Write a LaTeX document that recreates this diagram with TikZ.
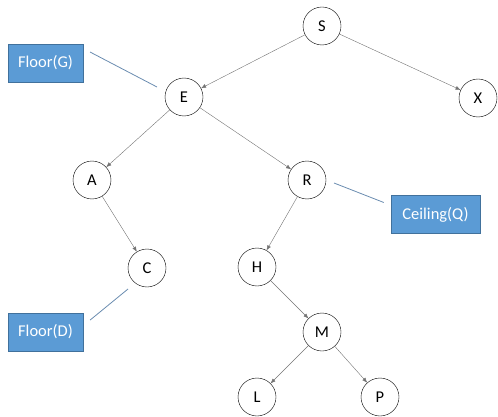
\documentclass[tikz,border=0pt]{standalone}
\usepackage{fontspec}
\setmainfont{Carlito}
\usetikzlibrary{arrows.meta}

\definecolor{boxblue}{HTML}{5B9BD5}
\definecolor{boxedge}{HTML}{41719C}
\definecolor{calloutline}{HTML}{6A8CB0}

\tikzset{
  treenode/.style={draw=black,circle,minimum size=38pt,inner sep=0pt,font=\fontsize{16.5}{16.5}\selectfont},
  tag/.style={draw=boxedge,fill=boxblue,text=white,minimum height=38pt,inner sep=0pt,font=\fontsize{16.5}{16.5}\selectfont},
  edge/.style={draw=black!55,-{Latex[length=5pt,width=4pt]}},
  callout/.style={draw=calloutline,thick}
}

\begin{document}
\begin{tikzpicture}[x=1pt,y=-1pt]
\useasboundingbox (0,0) rectangle (498,417);

\node[treenode] (S) at (322,26) {S};
\node[treenode] (E) at (184,97) {E};
\node[treenode] (X) at (478,98) {X};
\node[treenode] (A) at (92,180) {A};
\node[treenode] (R) at (307,180) {R};
\node[treenode] (C) at (147,268) {C};
\node[treenode] (H) at (257,267) {H};
\node[treenode] (M) at (322,332) {M};
\node[treenode] (L) at (257,397) {L};
\node[treenode] (P) at (380,397) {P};

\draw[edge] (S) -- (E);
\draw[edge] (S) -- (X);
\draw[edge] (E) -- (A);
\draw[edge] (E) -- (R);
\draw[edge] (A) -- (C);
\draw[edge] (R) -- (H);
\draw[edge] (H) -- (M);
\draw[edge] (M) -- (L);
\draw[edge] (M) -- (P);

% labels
\node[tag,minimum width=75pt] (floorG) at (45.5,63) {Floor(G)};
\node[tag,minimum width=89pt] (ceilQ) at (435.5,214.5) {Ceiling(Q)};
\node[tag,minimum width=75pt] (floorD) at (45.5,332) {Floor(D)};

\coordinate (gEnd) at (157,87);
\coordinate (qEnd) at (334,183);
\coordinate (dEnd) at (128,289);
\draw[callout] (90,52) -- (gEnd);
\draw[callout] (ceilQ.west) ++(-7,-12) -- (qEnd);
\draw[callout] (floorD.east) ++(7,-12) -- (dEnd);
\end{tikzpicture}
\end{document}
